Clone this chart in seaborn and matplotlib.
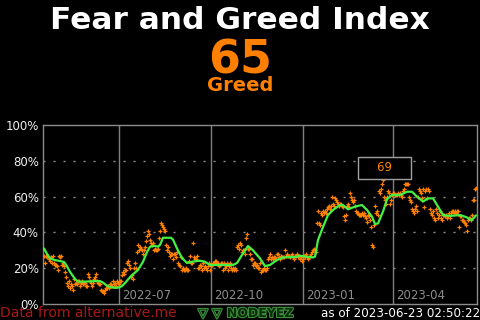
import numpy as np
import pandas as pd
import matplotlib
matplotlib.use("Agg")
import matplotlib.pyplot as plt
import matplotlib.transforms as mtransforms
import matplotlib.patheffects as pe
import seaborn as sns

# ---------------- data ----------------
start_date = "2022-04-17"
daily_values = [
    27, 23, 27, 26, 27, 25, 24, 26, 23, 27,
    23, 22, 22, 21, 19, 27, 26, 27, 22, 23,
    21, 18, 15, 12, 10, 13, 9, 11, 10, 8,
    14, 11, 12, 11, 13, 13, 10, 12, 13, 11,
    12, 12, 10, 10, 17, 15, 13, 12, 10, 12,
    14, 15, 17, 13, 12, 11, 11, 8, 7, 7,
    6, 8, 9, 9, 10, 9, 11, 11, 10, 13,
    11, 12, 10, 13, 12, 11, 13, 13, 16, 18,
    17, 19, 19, 23, 24, 22, 20, 15, 16, 14,
    20, 23, 20, 29, 33, 30, 32, 31, 30, 28,
    30, 32, 35, 38, 41, 39, 36, 34, 33, 34,
    30, 31, 30, 30, 31, 37, 41, 45, 44, 43,
    42, 41, 33, 30, 32, 29, 27, 28, 28, 25,
    28, 28, 26, 29, 23, 22, 21, 26, 19, 20,
    19, 19, 20, 19, 19, 24, 27, 23, 23, 34,
    26, 25, 25, 27, 20, 20, 22, 21, 19, 23,
    20, 21, 20, 19, 21, 23, 19, 21, 22, 23,
    23, 24, 24, 23, 23, 21, 22, 23, 23, 19,
    23, 20, 21, 23, 19, 21, 23, 20, 19, 20,
    19, 20, 19, 32, 33, 31, 34, 33, 29, 30,
    30, 28, 37, 39, 31, 31, 28, 25, 25, 22,
    23, 23, 21, 22, 20, 20, 23, 18, 19, 19,
    20, 19, 19, 20, 25, 26, 28, 25, 26, 25,
    26, 26, 25, 28, 28, 26, 25, 27, 26, 26,
    26, 30, 27, 28, 27, 27, 26, 27, 28, 26,
    25, 27, 27, 28, 26, 27, 25, 26, 24, 25,
    27, 26, 28, 26, 25, 26, 27, 28, 29, 30,
    31, 30, 29, 45, 52, 45, 44, 51, 50, 52,
    51, 52, 51, 53, 54, 55, 53, 55, 60, 56,
    55, 59, 58, 57, 56, 55, 56, 56, 55, 54,
    49, 47, 50, 55, 56, 54, 62, 60, 58, 57,
    58, 55, 52, 51, 51, 50, 50, 50, 51, 50,
    51, 49, 48, 46, 50, 49, 47, 43, 33, 32,
    44, 55, 51, 52, 50, 63, 62, 64, 67, 69,
    60, 58, 56, 60, 63, 62, 56, 58, 61, 62,
    62, 61, 61, 61, 62, 61, 62, 61, 60, 63,
    64, 67, 67, 67, 67, 60, 58, 57, 53, 52,
    51, 53, 55, 52, 60, 64, 63, 62, 59, 64,
    54, 63, 64, 59, 64, 63, 53, 51, 50, 52,
    48, 47, 53, 51, 48, 50, 52, 48, 47, 50,
    50, 49, 50, 48, 49, 51, 48, 51, 52, 52,
    51, 52, 51, 52, 52, 43, 49, 49, 47, 47,
    46, 45, 44, 41, 47, 48, 48, 47, 50, 58,
    58, 64, 65,
]

# moving-average line: (day offset from start, value)
ma_day = [0, 3, 6, 11, 16, 20, 22, 26, 31, 34, 41, 51, 56, 59, 62, 66, 71, 75, 78,
          81, 87, 94, 99, 103, 106, 111, 114, 116, 119, 127, 129, 133, 138, 143, 148,
          156, 161, 166, 173, 189, 193, 198, 204, 209, 216, 221, 226, 233, 239, 253,
          256, 263, 269, 271, 274, 279, 284, 289, 296, 299, 304, 311, 318, 323, 328,
          331, 334, 339, 343, 348, 356, 363, 368, 373, 379, 384, 389, 394, 399, 406,
          416, 423, 426, 428, 432]
ma_values = [31, 28, 25.5, 24.5, 24, 23.5, 22, 18, 14, 12.5, 12.5, 12.8, 12.8, 12, 10.6,
             9.5, 9, 9.2, 10, 11.7, 15.6, 19, 23.6, 29, 32, 32.5, 32, 33, 37, 37, 36, 31,
             25.7, 22.9, 23.6, 24.2, 23.6, 21.8, 21.8, 21.8, 22.9, 27.4, 32.4, 30, 25.5,
             21.2, 21.8, 24.6, 26, 26.4, 27, 26.4, 26, 26.5, 35.8, 43, 49.7, 52.5, 55.3,
             55.3, 52.9, 54.4, 55.3, 52.5, 48.8, 44.7, 45, 51.6, 58.5, 60.9, 60.9, 62.7,
             62.7, 60, 57.2, 59, 59, 54.4, 49.7, 49.2, 49.7, 48.4, 47, 47, 49.5]

tick_dates = ["2022-07-01", "2022-10-01", "2023-01-01", "2023-04-01"]
tick_labels = ["2022-07", "2022-10", "2023-01", "2023-04"]
y_ticks = [0, 20, 40, 60, 80, 100]

title = "Fear and Greed Index"
current_value = "65"
current_label = "Greed"
source_text = "Data from alternative.me"
asof_text = "as of 2023-06-23 02:50:22"

# ---------------- frames ----------------
dates = pd.date_range(start_date, periods=len(daily_values), freq="D")
df = pd.DataFrame({"date": dates, "value": daily_values})
ma_df = pd.DataFrame({
    "date": pd.Timestamp(start_date) + pd.to_timedelta(ma_day, unit="D"),
    "value": ma_values,
})

# ---------------- style ----------------
sns.set_style("dark")
plt.rcParams.update({
    "figure.facecolor": "black",
    "axes.facecolor": "black",
    "savefig.facecolor": "black",
    "lines.scale_dashes": False,
})
plt.rcParams["font.family"] = ["DejaVu Sans"]

ORANGE = "#ff8000"
GREEN = "#44f044"
GRID = "#808080"

fig = plt.figure(figsize=(4.8, 3.2), dpi=100)
ax = fig.add_axes([43 / 480, 16 / 320, 434 / 480, 179 / 320])

sns.scatterplot(data=df, x="date", y="value", marker="+", s=11, color=ORANGE,
                linewidth=0.9, ax=ax, zorder=3, legend=False)
sns.lineplot(data=ma_df, x="date", y="value", color=GREEN, lw=1.6, ax=ax,
             zorder=4, legend=False)

ax.set_xlim(dates[0] - pd.Timedelta(days=1), dates[-1] + pd.Timedelta(days=1))
ax.set_ylim(0, 100)
ax.set_xlabel("")
ax.set_ylabel("")

ax.set_xticks(pd.to_datetime(tick_dates))
ax.tick_params(axis="x", length=0, labelbottom=False)
ax.set_yticks(y_ticks)
ax.set_yticklabels([f"{v}%" for v in y_ticks])
ax.tick_params(axis="y", length=0, pad=3, labelsize=8.5, labelcolor="#f0f0f0")

ax.grid(False)
for d in pd.to_datetime(tick_dates):
    ax.axvline(d, color=GRID, lw=1.0, zorder=1)
for v in y_ticks[1:-1]:
    ax.axhline(v, color="#8c8c8c", lw=1.0, linestyle=(0, (1.5, 5.7)), zorder=1)

for sp in ax.spines.values():
    sp.set_visible(True)
    sp.set_color("#8c8c8c")
    sp.set_linewidth(1.0)

trans = mtransforms.blended_transform_factory(ax.transData, ax.transAxes)
offset = mtransforms.ScaledTranslation(3 / 100, 0, fig.dpi_scale_trans)
for d, lab in zip(pd.to_datetime(tick_dates), tick_labels):
    ax.text(d, 0.045, lab, transform=trans + offset, ha="left", va="center",
            fontsize=8.5, color="#8c8c8c")

# max annotation
imax = int(np.argmax(daily_values))
ax.annotate(f"    {daily_values[imax]}    ", xy=(dates[imax], daily_values[imax]),
            xytext=(1, 9), textcoords="offset points", ha="center", va="center",
            fontsize=8.5, color=ORANGE,
            bbox=dict(boxstyle="square,pad=0.35", fc="black", ec="#a0a0a0", lw=1.0),
            zorder=6)

# header texts
fig.text(0.5, 1 - 29 / 320, title, ha="center", va="baseline", fontsize=22.5,
         fontweight="bold", color="white")
fig.text(0.5, 1 - 74 / 320, current_value, ha="center", va="baseline", fontsize=33,
         fontweight="bold", color=ORANGE)
fig.text(0.5, 1 - 91 / 320, current_label, ha="center", va="baseline", fontsize=14,
         fontweight="bold", color=ORANGE)

# footer texts
fig.text(0.0, 1 - 317 / 320, source_text, ha="left", va="baseline", fontsize=10,
         color="#a81818")
fig.text(1.0, 1 - 317 / 320, asof_text, ha="right", va="baseline", fontsize=8.6,
         color="white")
fig.text(260 / 480, 1 - 317 / 320, "NODEYEZ", ha="center", va="baseline", fontsize=9,
         fontweight="bold", color="#0a300a",
         path_effects=[pe.withStroke(linewidth=1.6, foreground="#3c8c3c")])
fig.text(210 / 480, 1 - 317 / 320, "\u25bd \u25bd", ha="center", va="baseline",
         fontsize=9, fontweight="bold", color="#0a300a",
         path_effects=[pe.withStroke(linewidth=1.6, foreground="#3c8c3c")])

fig.savefig("out.png", dpi=100)
